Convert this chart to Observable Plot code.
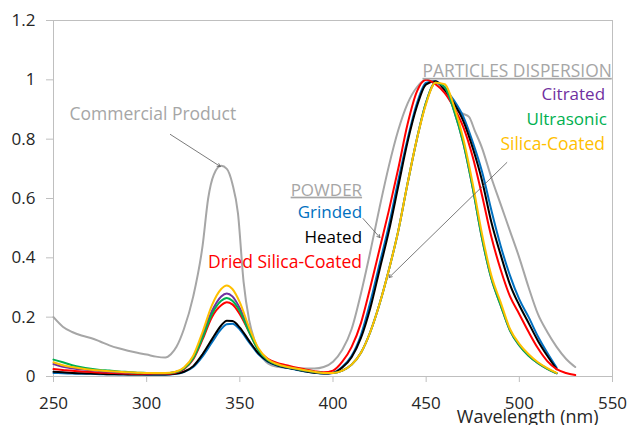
<!DOCTYPE html>
<html><head><meta charset="utf-8">
<script src="https://cdn.jsdelivr.net/npm/d3@7"></script>
<script src="https://cdn.jsdelivr.net/npm/@observablehq/plot@0.6"></script>
<style>body{margin:0;background:#fff;} svg{display:block}</style>
</head><body><div id="chart"></div>
<script>
const wavelengths = [250,255,260,265,270,275,280,285,290,295,300,305,310,315,320,325,330,335,340,343,346,350,355,360,365,370,375,380,385,390,395,400,405,410,415,420,425,430,435,440,445,450,455,460,465,470,475,480,485,490,495,500,505,510,515,520,525,530];
const grinded = [0.012,0.011,0.010,0.009,0.009,0.008,0.008,0.007,0.007,0.007,
  0.006,0.006,0.006,0.008,0.015,0.032,0.068,0.115,0.160,
  0.176,0.178,0.158,0.115,0.075,0.050,0.037,0.029,0.023,0.017,0.013,0.010,0.013,0.033,0.070,0.140,0.250,0.380,0.510,0.660,0.800,0.920,0.990,0.995,0.970,0.930,0.875,0.790,0.690,0.560,0.440,0.340,0.260,0.200,0.135,0.080,0.030,null,null];
const heated = [0.016,0.014,0.012,0.011,0.010,0.009,0.008,0.008,0.007,0.007,
  0.007,0.007,0.007,0.009,0.016,0.035,0.075,0.125,0.172,
  0.188,0.187,0.165,0.120,0.078,0.052,0.038,0.030,0.024,0.018,0.013,0.010,0.012,0.030,0.065,0.130,0.230,0.360,0.490,0.640,0.790,0.910,0.985,0.995,0.965,0.920,0.860,0.770,0.660,0.520,0.410,0.310,0.240,0.180,0.120,0.070,0.025,null,null];
const driedSilicaCoated = [0.025,0.022,0.019,0.017,0.015,0.013,0.012,0.011,0.010,0.009,
  0.009,0.009,0.009,0.012,0.025,0.058,0.125,0.200,0.240,
  0.250,0.243,0.210,0.150,0.090,0.060,0.046,0.038,0.030,0.024,0.018,0.014,0.020,0.050,0.100,0.180,0.300,0.430,0.560,0.700,0.850,0.960,1.000,0.985,0.955,0.905,0.840,0.740,0.610,0.470,0.360,0.270,0.210,0.150,0.095,0.052,0.025,0.012,0.005];
const citrated = [0.042,0.033,0.028,0.024,0.021,0.018,0.016,0.014,0.013,0.012,
  0.011,0.011,0.011,0.014,0.028,0.065,0.140,0.220,0.270,
  0.280,0.270,0.230,0.155,0.090,0.056,0.040,0.032,0.026,0.020,0.015,0.012,0.012,0.020,0.040,0.080,0.150,0.245,0.360,0.490,0.650,0.800,0.925,0.990,0.975,0.895,0.785,0.635,0.465,0.330,0.240,0.155,0.105,0.070,0.045,0.026,0.011,null,null];
const ultrasonic = [0.057,0.048,0.038,0.031,0.026,0.022,0.020,0.017,0.015,0.013,
  0.012,0.011,0.011,0.014,0.027,0.062,0.130,0.210,0.255,
  0.265,0.255,0.220,0.150,0.088,0.055,0.040,0.032,0.026,0.020,0.015,0.012,0.012,0.020,0.040,0.080,0.150,0.245,0.360,0.490,0.650,0.800,0.925,0.990,0.975,0.895,0.785,0.635,0.465,0.330,0.240,0.155,0.105,0.070,0.045,0.026,0.011,null,null];
const silicaCoated = [0.048,0.038,0.032,0.027,0.023,0.020,0.018,0.016,0.014,0.013,
  0.012,0.012,0.012,0.015,0.030,0.070,0.150,0.240,0.295,
  0.307,0.295,0.250,0.165,0.095,0.058,0.042,0.033,0.027,0.021,0.016,0.012,0.012,0.020,0.040,0.080,0.150,0.245,0.360,0.490,0.650,0.800,0.920,0.990,0.985,0.910,0.800,0.650,0.480,0.340,0.250,0.160,0.110,0.075,0.048,0.028,0.012,null,null];

const commercialWl = [250,255,260,265,270,275,280,285,290,295,300,305,310,313,316,320,325,330,333,336,340,343,346,349,352,355,358,361,364,367,370,380,390,395,400,405,410,415,420,425,430,435,440,445,450,453,456,460,463,466,470,473,476,480,485,490,495,500,505,510,515,520,525,530];
const commercial = [0.200,0.168,0.150,0.138,0.130,0.118,0.105,0.095,0.087,0.080,0.074,0.067,0.064,0.075,0.100,0.160,0.270,0.440,0.600,0.680,0.710,0.700,0.650,0.550,0.320,0.190,0.120,0.075,0.050,0.038,0.033,0.028,0.027,0.032,0.050,0.090,0.160,0.280,0.420,0.570,0.710,0.830,0.920,0.975,1.000,0.995,0.985,0.960,0.930,0.900,0.885,0.875,0.830,0.770,0.670,0.580,0.490,0.400,0.300,0.210,0.150,0.100,0.060,0.032];

const seriesNames = ["Grinded","Heated","Dried Silica-Coated","Citrated","Ultrasonic","Silica-Coated"];
const seriesValues = [grinded, heated, driedSilicaCoated, citrated, ultrasonic, silicaCoated];
const seriesColors = ["#0070C0","#000000","#FF0000","#7030A0","#00B050","#FFC000"];
const commercialColor = "#A6A6A6";

const xTicks = [250,300,350,400,450,500,550];
const yTicks = [0,0.2,0.4,0.6,0.8,1,1.2];
const xLabel = "Wavelength (nm)";

// annotations (data coordinates)
const centerLabel = {t: "Commercial Product", x: 303.3, y: 0.884, c: commercialColor};
const labelTexts = ["PARTICLES DISPERSION","Citrated","Ultrasonic","Silica-Coated","POWDER","Grinded","Heated","Dried Silica-Coated"];
const labelX = [549.6,546,547,546,415.6,415.6,415.6,415.6];
const labelY = [1.029,0.952,0.8675,0.783,0.628,0.551,0.468,0.386];
const labelColors = [commercialColor,"#7030A0","#00B050","#FFC000",commercialColor,"#0070C0","#000000","#FF0000"];
const labelSizes = [17.4,17,17,17.5,17,17,17,17.5];
const underlined = ["PARTICLES DISPERSION","POWDER"];

const arrowX1 = [312.7,416.1,493.3];
const arrowY1 = [0.816,0.5325,0.7213];
const arrowX2 = [339.5,425.2,430.1];
const arrowY2 = [0.708,0.4684,0.3337];

const lineData = [];
seriesNames.forEach((name, i) => {
  wavelengths.forEach((w, j) => lineData.push({series: name, wl: w, v: seriesValues[i][j]}));
});
const commercialData = commercialWl.map((w, j) => ({wl: w, v: commercial[j]}));
const labels = labelTexts.map((t, i) => ({t, x: labelX[i], y: labelY[i], c: labelColors[i], s: labelSizes[i]}));
const arrows = arrowX1.map((x1, i) => ({x1, y1: arrowY1[i], x2: arrowX2[i], y2: arrowY2[i]}));

const chart = Plot.plot({
  width: 630,
  height: 425,
  marginLeft: 53,
  marginRight: 18,
  marginTop: 20,
  marginBottom: 49,
  style: {fontFamily: "'Open Sans', sans-serif", fontSize: "17px", color: "#333", background: "#fff"},
  x: {domain: [250, 550]},
  y: {domain: [0, 1.2]},
  color: {domain: seriesNames, range: seriesColors},
  marks: [
    Plot.frame({stroke: "#bfbfbf", strokeWidth: 1}),
    Plot.axisX({ticks: xTicks, tickSize: 6, tickPadding: 14, stroke: "#bfbfbf", fill: "#262626", label: null, tickFormat: d => String(d)}),
    Plot.axisY({ticks: yTicks, tickSize: 7, tickPadding: 11, stroke: "#bfbfbf", fill: "#262626", label: null, tickFormat: d => String(+d.toFixed(1))}),
    Plot.line(commercialData, {x: "wl", y: "v", stroke: commercialColor, strokeWidth: 2, curve: "monotone-x"}),
    Plot.line(lineData, {x: "wl", y: "v", z: "series", stroke: "series", strokeWidth: 2, curve: "monotone-x"}),
    Plot.arrow(arrows, {x1: "x1", y1: "y1", x2: "x2", y2: "y2", stroke: "#595959", strokeWidth: 0.8, headLength: 6}),
    Plot.text([centerLabel], {x: "x", y: "y", text: "t", fill: "c", textAnchor: "middle", lineAnchor: "middle", fontSize: 17.5}),
    Plot.text(labels, {x: "x", y: "y", text: "t", fill: "c", textAnchor: "end", lineAnchor: "middle", fontSize: "s"}),
    Plot.text([xLabel], {frameAnchor: "bottom-right", textAnchor: "end", lineAnchor: "middle", dx: -14, dy: 41, fill: "#262626", fontSize: 18})
  ]
});
document.getElementById("chart").appendChild(chart);
d3.select(chart).selectAll("text").filter(function() { return underlined.includes(this.textContent); })
  .style("text-decoration", "underline");
</script>
</body></html>
